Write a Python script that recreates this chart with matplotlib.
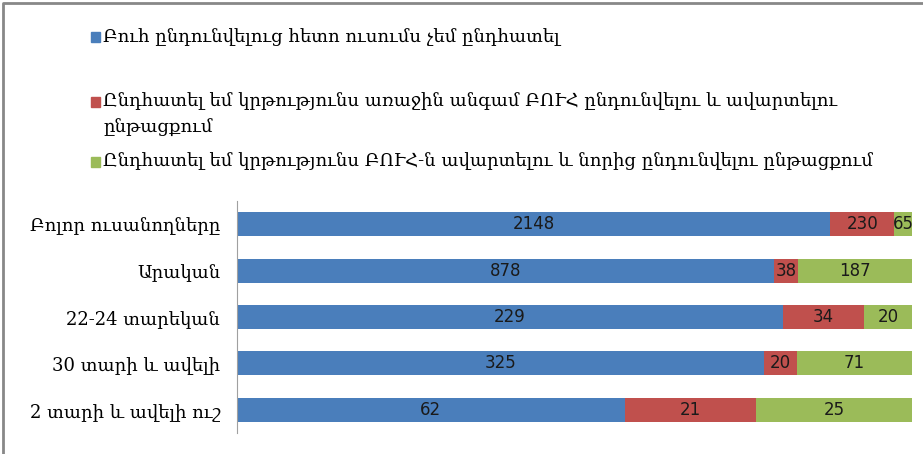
import matplotlib
matplotlib.use('Agg')
import matplotlib.pyplot as plt
from matplotlib.lines import Line2D
from matplotlib.patches import Rectangle
import numpy as np

categories = ['Բոլոր ուսանողները', 'Արական', '22-24 տարեկան',
              '30 տարի և ավելի', '2 տարի և ավելի ուշ']
not_interrupted = [2148, 878, 229, 325, 62]
interrupted_first = [230, 38, 34, 20, 21]
interrupted_after = [65, 187, 20, 71, 25]

series_names = ['Բուհ ընդունվելուց հետո ուսումս չեմ ընդհատել',
                'Ընդհատել եմ կրթությունս առաջին անգամ ԲՈՒՀ ընդունվելու և ավարտելու\nընթացքում',
                'Ընդհատել եմ կրթությունս ԲՈՒՀ-ն ավարտելու և նորից ընդունվելու ընթացքում']
colors = ['#4A7EBB', '#C0504D', '#9BBB59']

arm_font = 'DejaVu Serif'

fig = plt.figure(figsize=(9.23, 4.54), dpi=100)
ax = fig.add_axes([237/923, 1 - 433/454, (912-237)/923, (433-201)/454])

data = np.array([not_interrupted, interrupted_first, interrupted_after], dtype=float)
totals = data.sum(axis=0)
shares = data / totals
y = np.arange(len(categories))
left = np.zeros(len(categories))
for i in range(3):
    bars = ax.barh(y, shares[i], left=left, height=0.52, color=colors[i])
    for j, b in enumerate(bars):
        ax.text(left[j] + shares[i][j] / 2, y[j], str(int(data[i][j])),
                ha='center', va='center', fontsize=12, color='#1a1a1a',
                family='DejaVu Sans')
    left += shares[i]

ax.set_xlim(0, 1)
ax.set_ylim(len(categories) - 0.5, -0.5)
ax.set_yticks(y)
ax.set_yticklabels(categories, family=arm_font, fontsize=13)
ax.tick_params(axis='y', length=0, pad=12)
ax.set_xticks([])
for s in ['top', 'right', 'bottom']:
    ax.spines[s].set_visible(False)
ax.spines['left'].set_color('#a0a0a0')

# legend drawn by hand (Excel-style, at the top)
leg_y = [1 - 37/454, 1 - 102/454, 1 - 162/454]
for i in range(3):
    fig.patches.append(Rectangle((91/923, leg_y[i] - 4.5/454), 9/923, 9/454,
                                 transform=fig.transFigure, color=colors[i]))
    if i == 1:
        fig.text(103/923, 1 - 92/454, series_names[i], family=arm_font, fontsize=13,
                 va='top', ha='left', linespacing=1.65)
    else:
        fig.text(103/923, leg_y[i], series_names[i], family=arm_font, fontsize=13,
                 va='center', ha='left')

# outer frame
fig.lines.append(Line2D([3/923, 3/923, 1], [0, 1 - 3/454, 1 - 3/454],
                        transform=fig.transFigure, color='#888888', lw=2))

fig.savefig('out.png', dpi=100)
